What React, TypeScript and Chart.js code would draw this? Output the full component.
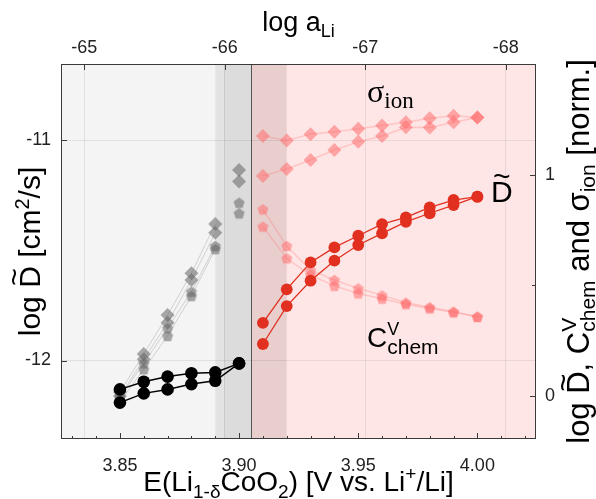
import { useEffect, useRef } from 'react';
import { Chart, registerables } from 'chart.js';
Chart.register(...registerables);

// ---------- data ----------
const E_LOW = [3.85, 3.86, 3.87, 3.88, 3.89, 3.9];
const E_HIGH = [3.91, 3.92, 3.93, 3.94, 3.95, 3.96, 3.97, 3.98, 3.99, 4.0];

// log D (left axis), low-potential region (black)
const D_LOW_A = [-12.131, -12.096, -12.073, -12.058, -12.054, -12.013];
const D_LOW_B = [-12.191, -12.149, -12.131, -12.107, -12.092, -12.013];
// log D (left axis), high-potential region (red)
const D_HIGH_A = [-11.829, -11.677, -11.555, -11.487, -11.434, -11.381, -11.351, -11.305, -11.272, -11.257];
const D_HIGH_B = [-11.925, -11.753, -11.638, -11.547, -11.476, -11.423, -11.371, -11.332, -11.295, -11.257];

// normalized (right axis): sigma_ion (diamonds), C_chem (pentagons)
const SIG_LOW_A = [0.016, 0.188, 0.365, 0.554, 0.778, 1.023];
const SIG_LOW_B = [-0.002, 0.164, 0.33, 0.524, 0.738, 0.97];
const C_LOW_A = [-0.007, 0.146, 0.305, 0.471, 0.678, 0.874];
const C_LOW_B = [-0.029, 0.119, 0.27, 0.451, 0.664, 0.826];
const SIG_HIGH_A = [1.177, 1.156, 1.185, 1.196, 1.209, 1.224, 1.239, 1.257, 1.268, 1.26];
const SIG_HIGH_B = [0.995, 1.027, 1.068, 1.113, 1.15, 1.177, 1.216, 1.215, 1.239, 1.26];
const C_HIGH_A = [0.844, 0.678, 0.569, 0.524, 0.486, 0.454, 0.421, 0.4, 0.38, 0.357];
const C_HIGH_B = [0.766, 0.622, 0.546, 0.497, 0.463, 0.439, 0.414, 0.395, 0.377, 0.357];

// ticks
const BOTTOM_TICKS = [3.85, 3.9, 3.95, 4.0];
const BOTTOM_MINOR = [3.83, 3.84, 3.86, 3.87, 3.88, 3.89, 3.91, 3.92, 3.93, 3.94, 3.96, 3.97, 3.98, 3.99, 4.01, 4.02];
const TOP_TICKS = [-65, -66, -67, -68];
const LEFT_TICKS = [-12, -11];
const RIGHT_TICKS = [0, 1];
const RIGHT_MINOR = [0.5];

// axis ranges
const X_MIN = 3.82527, X_MAX = 4.0246;
const TOP_MIN = -68.215, TOP_MAX = -64.834;
const Y_MIN = -12.356, Y_MAX = -10.655;
const Y2_MIN = -0.197, Y2_MAX = 1.503;

// regions (potential, V)
const GRAY_REGION = [X_MIN, 3.905];
const PINK_REGION = [3.905, X_MAX];
const GRAY_BAND_A = [3.89, 3.8935];
const GRAY_BAND_B = [3.8935, 3.905];
const PINK_BAND = [3.905, 3.92];
const BOUNDARY = 3.905;

const SANS = "'Liberation Sans', Arial, sans-serif";
const SERIF = "'Liberation Serif', 'Times New Roman', serif";

type Seg = { t: string; s: number; dy?: number; serif?: boolean; tilde?: boolean; hold?: boolean };

function drawRich(ctx: CanvasRenderingContext2D, segs: Seg[], x: number, y: number, rot: number, align: 'left' | 'center', tildeOff = 0.52) {
  ctx.save();
  ctx.translate(x, y);
  ctx.rotate(rot);
  ctx.textBaseline = 'alphabetic';
  ctx.textAlign = 'left';
  ctx.fillStyle = '#000';
  const widths = segs.map((g) => {
    ctx.font = `${g.s}px ${g.serif ? SERIF : SANS}`;
    return ctx.measureText(g.t).width;
  });
  let total = 0;
  segs.forEach((g, i) => { if (!g.hold) total += widths[i]; });
  let cx = align === 'center' ? -total / 2 : 0;
  segs.forEach((g, i) => {
    ctx.font = `${g.s}px ${g.serif ? SERIF : SANS}`;
    ctx.fillText(g.t, cx, g.dy || 0);
    if (g.tilde) {
      ctx.textAlign = 'center';
      ctx.fillText('~', cx + widths[i] / 2, (g.dy || 0) - tildeOff * g.s);
      ctx.textAlign = 'left';
    }
    if (!g.hold) cx += widths[i];
  });
  ctx.restore();
}

function makePentagon(color: string, r: number) {
  const c = document.createElement('canvas');
  const size = Math.ceil(2 * r + 2);
  c.width = size;
  c.height = size;
  const g = c.getContext('2d')!;
  g.fillStyle = color;
  g.beginPath();
  for (let i = 0; i < 5; i++) {
    const a = -Math.PI / 2 + (i * 2 * Math.PI) / 5;
    const px = size / 2 + r * Math.cos(a);
    const py = size / 2 + 0.6 + r * Math.sin(a);
    if (i === 0) g.moveTo(px, py); else g.lineTo(px, py);
  }
  g.closePath();
  g.fill();
  return c;
}

const pts = (xs: number[], ys: number[]) => xs.map((x, i) => ({ x, y: ys[i] }));

export default function App() {
  const ref = useRef<HTMLCanvasElement>(null);
  useEffect(() => {
    const canvas = ref.current!;
    const GRAY_PT = 'rgba(100,100,100,0.55)';
    const GRAY_LN = 'rgba(140,140,140,0.35)';
    const PINK_PT = 'rgba(255,110,110,0.55)';
    const PINK_LN = 'rgba(255,120,120,0.3)';
    const RED = '#e1301f';
    const pentGray = makePentagon(GRAY_PT, 5.8);
    const pentPink = makePentagon(PINK_PT, 5.8);
    const hideLast = (col: string) => ({ borderColor: (c: any) => (c.p1DataIndex === 5 ? 'rgba(0,0,0,0)' : col) });

    const base = (data: any, yAxisID: string) => ({ data, xAxisID: 'x', yAxisID, showLine: true, pointBorderWidth: 0, pointBorderColor: 'rgba(0,0,0,0)', tension: 0 });

    const datasets: any[] = [
      { ...base(pts(E_LOW, D_LOW_A), 'y'), borderColor: '#000', borderWidth: 1.5, pointBackgroundColor: '#000', pointRadius: 6.3 },
      { ...base(pts(E_LOW, D_LOW_B), 'y'), borderColor: '#000', borderWidth: 1.5, pointBackgroundColor: '#000', pointRadius: 6.3 },
      { ...base(pts(E_HIGH, D_HIGH_A), 'y'), borderColor: RED, borderWidth: 1.3, pointBackgroundColor: RED, pointRadius: 5.9 },
      { ...base(pts(E_HIGH, D_HIGH_B), 'y'), borderColor: RED, borderWidth: 1.3, pointBackgroundColor: RED, pointRadius: 5.9 },
      { ...base(pts(E_LOW, SIG_LOW_A), 'y2'), borderColor: GRAY_LN, borderWidth: 1, segment: hideLast(GRAY_LN), pointStyle: 'rectRot', pointBackgroundColor: GRAY_PT, pointRadius: 7 },
      { ...base(pts(E_LOW, SIG_LOW_B), 'y2'), borderColor: GRAY_LN, borderWidth: 1, segment: hideLast(GRAY_LN), pointStyle: 'rectRot', pointBackgroundColor: GRAY_PT, pointRadius: 7 },
      { ...base(pts(E_LOW, C_LOW_A), 'y2'), borderColor: GRAY_LN, borderWidth: 1, segment: hideLast(GRAY_LN), pointStyle: pentGray, pointBackgroundColor: GRAY_PT, pointRadius: 5 },
      { ...base(pts(E_LOW, C_LOW_B), 'y2'), borderColor: GRAY_LN, borderWidth: 1, segment: hideLast(GRAY_LN), pointStyle: pentGray, pointBackgroundColor: GRAY_PT, pointRadius: 5 },
      { ...base(pts(E_HIGH, SIG_HIGH_A), 'y2'), borderColor: PINK_LN, borderWidth: 1.5, pointStyle: 'rectRot', pointBackgroundColor: PINK_PT, pointRadius: 7 },
      { ...base(pts(E_HIGH, SIG_HIGH_B), 'y2'), borderColor: PINK_LN, borderWidth: 1.5, pointStyle: 'rectRot', pointBackgroundColor: PINK_PT, pointRadius: 7 },
      { ...base(pts(E_HIGH, C_HIGH_A), 'y2'), borderColor: PINK_LN, borderWidth: 1.5, pointStyle: pentPink, pointBackgroundColor: PINK_PT, pointRadius: 5 },
      { ...base(pts(E_HIGH, C_HIGH_B), 'y2'), borderColor: PINK_LN, borderWidth: 1.5, pointStyle: pentPink, pointBackgroundColor: PINK_PT, pointRadius: 5 },
    ];

    const decor = {
      id: 'decor',
      beforeDraw(chart: any) {
        const { ctx, chartArea: a, scales } = chart;
        const sx = scales.x;
        ctx.save();
        ctx.fillStyle = '#fff';
        ctx.fillRect(0, 0, chart.width, chart.height);
        const band = (r: number[], col: string) => {
          const x0 = Math.max(a.left, sx.getPixelForValue(r[0]));
          const x1 = Math.min(a.right, sx.getPixelForValue(r[1]));
          ctx.fillStyle = col;
          ctx.fillRect(x0, a.top, x1 - x0, a.bottom - a.top);
        };
        band(GRAY_REGION, '#f4f4f4');
        band(PINK_REGION, '#ffe6e6');
        band(GRAY_BAND_A, '#e3e3e3');
        band(GRAY_BAND_B, '#dcdcdc');
        band(PINK_BAND, '#e9cece');
        ctx.restore();
      },
      beforeDatasetsDraw(chart: any) {
        const { ctx, chartArea: a, scales } = chart;
        const px = Math.round(scales.x.getPixelForValue(BOUNDARY)) + 0.5;
        ctx.save();
        ctx.strokeStyle = '#555';
        ctx.lineWidth = 1;
        ctx.beginPath();
        ctx.moveTo(px, a.top);
        ctx.lineTo(px, a.bottom);
        ctx.stroke();
        ctx.restore();
      },
      afterDraw(chart: any) {
        const { ctx, chartArea: a, scales } = chart;
        ctx.save();
        ctx.strokeStyle = '#3a3a3a';
        ctx.lineWidth = 1;
        ctx.strokeRect(a.left + 0.5, a.top + 0.5, a.right - a.left - 1, a.bottom - a.top - 1);
        ctx.beginPath();
        const vTick = (s: any, v: number, y0: number, len: number) => {
          const p = Math.round(s.getPixelForValue(v)) + 0.5;
          if (p < a.left || p > a.right) return;
          ctx.moveTo(p, y0);
          ctx.lineTo(p, y0 + len);
        };
        const hTick = (s: any, v: number, x0: number, len: number) => {
          const p = Math.round(s.getPixelForValue(v)) + 0.5;
          if (p < a.top || p > a.bottom) return;
          ctx.moveTo(x0, p);
          ctx.lineTo(x0 + len, p);
        };
        BOTTOM_TICKS.forEach((v) => vTick(scales.x, v, a.bottom, -6));
        BOTTOM_MINOR.forEach((v) => vTick(scales.x, v, a.bottom, -3));
        TOP_TICKS.forEach((v) => vTick(scales.x2, v, a.top, 6));
        LEFT_TICKS.forEach((v) => hTick(scales.y, v, a.left, 6));
        RIGHT_TICKS.forEach((v) => hTick(scales.y2, v, a.right, -6));
        RIGHT_MINOR.forEach((v) => hTick(scales.y2, v, a.right, -4));
        ctx.stroke();
        ctx.restore();

        const cy = (a.top + a.bottom) / 2;
        // axis titles
        drawRich(ctx, [{ t: 'log a', s: 27 }, { t: 'Li', s: 18, dy: 6 }], (a.left + a.right) / 2, 30.5, 0, 'center');
        drawRich(ctx, [
          { t: 'E(Li', s: 28 }, { t: '1-δ', s: 19, dy: 7 }, { t: 'CoO', s: 28 }, { t: '2', s: 19, dy: 7 },
          { t: ') [V vs. Li', s: 28 }, { t: '+', s: 19, dy: -11 }, { t: '/Li]', s: 28 },
        ], (a.left + a.right) / 2, 491, 0, 'center');
        drawRich(ctx, [
          { t: 'log ', s: 30 }, { t: 'D', s: 30, tilde: true }, { t: ' [cm', s: 30 }, { t: '2', s: 20, dy: -11 }, { t: '/s]', s: 30 },
        ], 40, cy, -Math.PI / 2, 'center');
        drawRich(ctx, [
          { t: 'log ', s: 31 }, { t: 'D', s: 31, tilde: true }, { t: ', C', s: 31 },
          { t: 'V', s: 21, dy: -13, hold: true }, { t: 'chem', s: 21, dy: 6 },
          { t: ' and σ', s: 31 }, { t: 'ion', s: 21, dy: 6 }, { t: ' [norm.]', s: 31 },
        ], 589, cy, -Math.PI / 2, 'center', 0.47);

        // in-plot labels
        drawRich(ctx, [{ t: 'σ', s: 32, serif: true }, { t: 'ion', s: 23, dy: 6, serif: true }], 367, 102, 0, 'left');
        drawRich(ctx, [{ t: 'D', s: 30, tilde: true }], 491, 202, 0, 'left');
        drawRich(ctx, [{ t: 'C', s: 28 }, { t: 'V', s: 18, dy: -12, hold: true }, { t: 'chem', s: 21, dy: 7 }], 367, 347, 0, 'left');
      },
    };

    const tickFont = { size: 18, family: SANS };
    const chart = new Chart(canvas, {
      type: 'line',
      data: { datasets },
      plugins: [decor],
      options: {
        animation: false,
        responsive: false,
        devicePixelRatio: 1,
        layout: { padding: 0 },
        plugins: { legend: { display: false }, tooltip: { enabled: false } },
        scales: {
          x: {
            type: 'linear', position: 'bottom', min: X_MIN, max: X_MAX,
            afterBuildTicks: (s: any) => { s.ticks = BOTTOM_TICKS.map((v) => ({ value: v })); },
            afterFit: (s: any) => { s.height = 60; },
            grid: { display: false }, border: { display: false },
            ticks: { font: tickFont, color: '#222', padding: 8, autoSkip: false, maxRotation: 0, callback: (v: any) => Number(v).toFixed(2) },
          },
          x2: {
            type: 'linear', position: 'top', min: TOP_MIN, max: TOP_MAX, reverse: true,
            afterBuildTicks: (s: any) => { s.ticks = TOP_TICKS.map((v) => ({ value: v })); },
            afterFit: (s: any) => { s.height = 64; },
            grid: { display: true, color: 'rgba(0,0,0,0.08)', lineWidth: 1, drawTicks: false }, border: { display: false },
            ticks: { font: tickFont, color: '#222', padding: 5, autoSkip: false, maxRotation: 0, callback: (v: any) => String(Math.round(Number(v))) },
          },
          y: {
            type: 'linear', position: 'left', min: Y_MIN, max: Y_MAX,
            afterBuildTicks: (s: any) => { s.ticks = LEFT_TICKS.map((v) => ({ value: v })); },
            afterFit: (s: any) => { s.width = 61; },
            grid: { display: true, color: 'rgba(0,0,0,0.08)', lineWidth: 1, drawTicks: false }, border: { display: false },
            ticks: { font: tickFont, color: '#222', padding: 10, autoSkip: false, callback: (v: any) => String(Math.round(Number(v))) },
          },
          y2: {
            type: 'linear', position: 'right', min: Y2_MIN, max: Y2_MAX,
            afterBuildTicks: (s: any) => { s.ticks = RIGHT_TICKS.map((v) => ({ value: v })); },
            afterFit: (s: any) => { s.width = 60; },
            grid: { display: false, drawTicks: false }, border: { display: false },
            ticks: { font: tickFont, color: '#222', padding: 9, autoSkip: false, callback: (v: any) => String(Math.round(Number(v))) },
          },
        },
      } as any,
    });
    return () => chart.destroy();
  }, []);
  return (
    <div style={{ position: 'fixed', left: 0, top: 0, width: 596, height: 499, background: '#fff' }}>
      <canvas ref={ref} width={596} height={499} style={{ display: 'block', width: 596, height: 499 }} />
    </div>
  );
}
